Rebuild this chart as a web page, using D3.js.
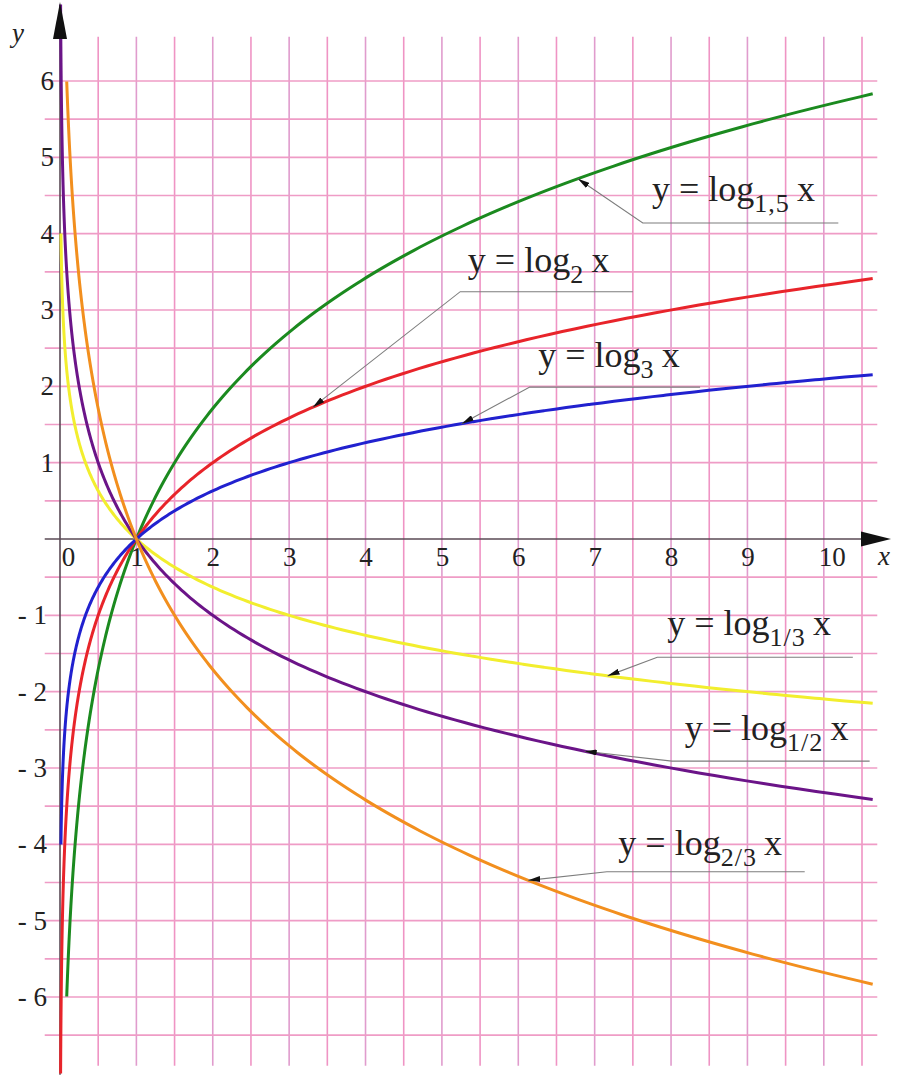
<!DOCTYPE html>
<html>
<head>
<meta charset="utf-8">
<script src="https://cdn.jsdelivr.net/npm/d3@7"></script>
<style>
  body { margin: 0; background: #fff; }
  text { font-family: "Liberation Serif", "DejaVu Serif", serif; fill: #222; }
</style>
</head>
<body>
<div id="chart"></div>
<script>
// curves: y = log_b x
var bases     = [1.5, 2, 3, 1/3, 1/2, 2/3];
var baseNames = ["1,5", "2", "3", "1/3", "1/2", "2/3"];
var colors    = ["#1b8a1f", "#e8242a", "#2121cf", "#f2ee2e", "#6b1488", "#f28f1e"];
// where each curve begins and where they all end
var xStart = [0.088, 0.0078, 0.0123, 0.0123, 0.0078, 0.088];
var xEnd = 10.64;

// callouts (data units): text start, text baseline, underline y, underline ends, arrow tip x
var labelX    = [7.75, 5.34, 6.26, 7.95, 8.18, 7.31];
var labelY    = [4.43, 3.50, 2.25, -1.26, -2.63, -4.14];
var lineY     = [4.14, 3.24, 1.99, -1.55, -2.91, -4.36];
var lineX0    = [7.63, 5.24, 6.15, 7.82, 8.01, 7.16];
var lineX1    = [10.19, 7.50, 8.38, 10.38, 10.6, 9.75];
var tipX      = [6.78, 3.31, 5.26, 7.17, 6.87, 6.13];

var xTicks = [0, 1, 2, 3, 4, 5, 6, 7, 8, 9, 10];
var yTicks = [6, 5, 4, 3, 2, 1, -1, -2, -3, -4, -5, -6];

var width = 898, height = 1080;

var svg = d3.select("#chart").append("svg")
    .attr("width", width)
    .attr("height", height);

svg.append("rect").attr("width", width).attr("height", height).attr("fill", "#fff");

var x = d3.scaleLinear().domain([0, 10.5]).range([60, 862]);
var y = d3.scaleLinear().domain([0, 6]).range([539, 81]);

// grid, every half unit
var grid = svg.append("g");
grid.selectAll(".v")
    .data(d3.range(0.5, 10.51, 0.5))
    .enter().append("line")
    .attr("x1", d => x(d)).attr("x2", d => x(d))
    .attr("y1", y(6.58)).attr("y2", y(-6.9))
    .attr("stroke", (d, i) => i % 2 ? "#e09ccd" : "#ef94c4")
    .attr("stroke-width", 1.6);
grid.selectAll(".h")
    .data(d3.range(-6.5, 6.01, 0.5).filter(d => d !== 0))
    .enter().append("line")
    .attr("x1", x(-0.2)).attr("x2", x(10.7))
    .attr("y1", d => y(d)).attr("y2", d => y(d))
    .attr("stroke", "#ef9cc6")
    .attr("stroke-width", 1.6);

// axes
var axisColor = "#5a4a55";
svg.append("line")
    .attr("x1", x(-0.2)).attr("x2", x(10.5))
    .attr("y1", y(0)).attr("y2", y(0))
    .attr("stroke", axisColor).attr("stroke-width", 1.6);
svg.append("path")
    .attr("d", "M" + (x(10.5) - 1) + "," + (y(0) - 7.5) + "L" + (x(10.5) + 29) + "," + y(0) + "L" + (x(10.5) - 1) + "," + (y(0) + 7.5) + "Z")
    .attr("fill", "#111");
svg.append("line")
    .attr("x1", x(0)).attr("x2", x(0))
    .attr("y1", y(-7.02)).attr("y2", y(6.55))
    .attr("stroke", axisColor).attr("stroke-width", 1.6);

var xAxis = svg.append("g")
    .attr("transform", "translate(0," + y(0) + ")")
    .call(d3.axisBottom(x).tickValues(xTicks).tickSize(0).tickPadding(8).tickFormat(d3.format("d")));
xAxis.select(".domain").remove();
xAxis.selectAll("text")
    .attr("dx", d => (d === 0 || d === 10) ? 8 : 0)
    .style("font-family", "Liberation Serif")
    .style("font-size", "27px")
    .attr("fill", "#222");

var yAxis = svg.append("g")
    .attr("transform", "translate(" + x(0) + ",0)")
    .call(d3.axisLeft(y).tickValues(yTicks).tickSize(0)
        .tickPadding(6)
        .tickFormat(d => d < 0 ? "- " + (-d) : String(d)));
yAxis.select(".domain").remove();
yAxis.selectAll("text")
    .attr("dx", d => d < 0 ? -7 : 0)
    .style("font-family", "Liberation Serif")
    .style("font-size", "27px")
    .attr("fill", "#222");

svg.append("text")
    .attr("x", 18).attr("y", 42)
    .attr("text-anchor", "middle")
    .style("font-style", "italic").style("font-size", "27px")
    .text("y");
svg.append("text")
    .attr("x", 884).attr("y", 565)
    .attr("text-anchor", "middle")
    .style("font-style", "italic").style("font-size", "27px")
    .text("x");

// curves
var line = d3.line()
    .x(d => x(d[0]))
    .y(d => y(d[1]))
    .curve(d3.curveMonotoneX);

bases.forEach(function(b, i) {
    var pts = d3.range(0, 301).map(function(k) {
        var xv = xStart[i] * Math.pow(xEnd / xStart[i], k / 300);
        return [xv, Math.log(xv) / Math.log(b)];
    });
    svg.append("path")
        .datum(pts)
        .attr("fill", "none")
        .attr("stroke", colors[i])
        .attr("stroke-width", 3)
        .attr("d", line);
});

// y axis arrow drawn over the purple curve
svg.append("path")
    .attr("d", "M" + (x(0) - 7) + "," + y(6.55) + "L" + x(0) + "," + (y(6.55) - 37) + "L" + (x(0) + 7) + "," + y(6.55) + "Z")
    .attr("fill", "#111");

// callouts
svg.append("defs").append("marker")
    .attr("id", "arr")
    .attr("viewBox", "0 0 12 6")
    .attr("refX", 12).attr("refY", 3)
    .attr("markerWidth", 12).attr("markerHeight", 6)
    .attr("markerUnits", "userSpaceOnUse")
    .attr("orient", "auto")
    .append("path")
    .attr("d", "M0,0L12,3L0,6Z")
    .attr("fill", "#111");

bases.forEach(function(b, i) {
    var g = svg.append("g");
    var tipY = Math.log(tipX[i]) / Math.log(b);
    g.append("path")
        .attr("d", "M" + x(lineX1[i]) + "," + y(lineY[i]) +
                   "L" + x(lineX0[i]) + "," + y(lineY[i]) +
                   "L" + x(tipX[i]) + "," + y(tipY))
        .attr("fill", "none")
        .attr("stroke", "#7d7d7d")
        .attr("stroke-width", 1.1)
        .attr("marker-end", "url(#arr)");

    var t = g.append("text")
        .attr("x", x(labelX[i]))
        .attr("y", y(labelY[i]))
        .style("font-size", "36px")
        .style("fill", "#222");
    t.append("tspan").text("y = log");
    t.append("tspan")
        .attr("dy", 11)
        .style("font-size", "26px")
        .attr("letter-spacing", 1)
        .text(baseNames[i]);
    t.append("tspan")
        .attr("dy", -11)
        .text("\u2009x");
});
</script>
</body>
</html>
